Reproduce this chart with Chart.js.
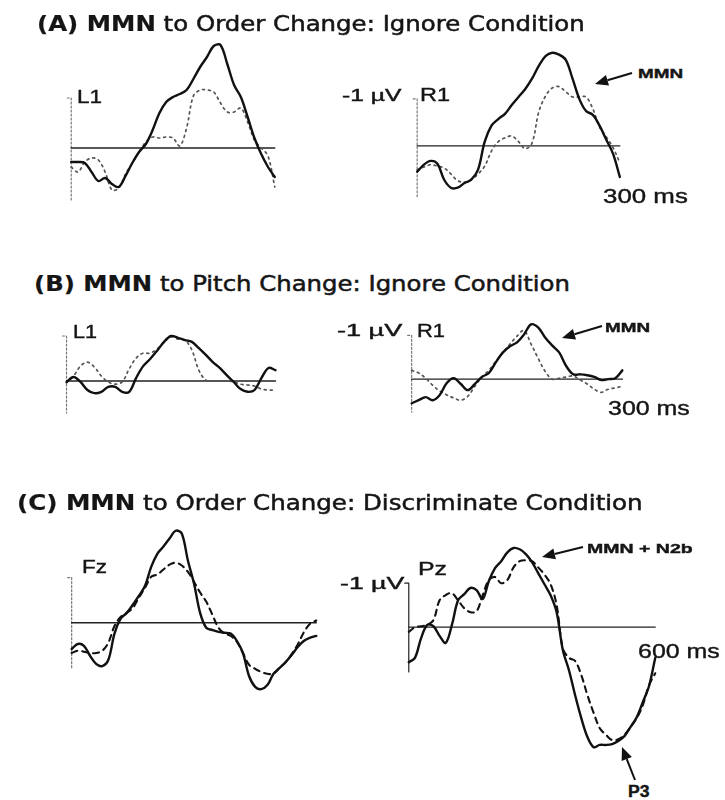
<!DOCTYPE html>
<html>
<head>
<meta charset="utf-8">
<script src="https://cdn.jsdelivr.net/npm/chart.js@4.4.1/dist/chart.umd.min.js"></script>
<style>
  html, body { margin: 0; padding: 0; background: #fff; }
  #fig { position: relative; width: 725px; height: 800px; overflow: hidden; }
  #fig canvas { position: absolute; }
  .lbl { position: absolute; white-space: nowrap; line-height: 1; color: #151515; transform-origin: 0 0; }
  .title { font-family: "DejaVu Sans", sans-serif; -webkit-text-stroke: 0.5px #151515; }
  .title b { -webkit-text-stroke: 0.2px #151515; }
  .tag { font-family: "Liberation Sans", Arial, sans-serif; -webkit-text-stroke: 0.4px #151515; }
  #arrows { position: absolute; left: 0; top: 0; }
</style>
</head>
<body>
<div id="fig"><svg id="arrows" width="725" height="800"></svg></div>
<script>
// time points (ms)
const timesShort = [0, 10, 20, 30, 40, 50, 60, 70, 80, 90, 100, 110, 120, 130, 140, 150,
  160, 170, 180, 190, 200, 210, 220, 230, 240, 250, 260, 270, 280, 290, 300];
const timesLong = [0, 15, 30, 45, 60, 75, 90, 105, 120, 135, 150, 165, 180, 195, 210, 225,
  240, 255, 270, 285, 300, 315, 330, 345, 360, 375, 390, 405, 420, 435, 450, 465, 480, 495,
  510, 525, 540, 555, 570, 585, 600];

// amplitudes in µV, negative is drawn up
// (A) order change, ignore
const aL1Deviant = [0.28, 0.28, 0.30, 0.48, 0.66, 0.60, 0.72, 0.78, 0.56, 0.30, 0.08, -0.08, -0.36,
  -0.70, -0.92, -1.02, -1.08, -1.16, -1.38, -1.62, -1.82, -2.04, -2.06, -1.68, -1.26, -1.02, -0.62,
  -0.20, 0.12, 0.38, 0.58];
const aL1Standard = [0.38, 0.48, 0.28, 0.20, 0.24, 0.48, 0.84, 0.80, 0.52, 0.30, 0.08, -0.12, -0.22,
  -0.20, -0.22, -0.20, -0.04, -0.40, -1.04, -1.16, -1.16, -1.12, -0.90, -0.72, -0.72, -0.80, -0.52,
  -0.16, 0.00, 0.16, 0.78];
const aR1Deviant = [0.55, 0.40, 0.32, 0.38, 0.72, 0.89, 0.89, 0.79, 0.72, 0.51, -0.09, -0.43, -0.57,
  -0.68, -0.87, -1.04, -1.21, -1.43, -1.70, -1.91, -1.98, -1.94, -1.83, -1.43, -1.00, -0.74, -0.66,
  -0.43, -0.13, 0.17, 0.66];
const aR1Standard = [0.51, 0.45, 0.40, 0.43, 0.47, 0.60, 0.74, 0.77, 0.72, 0.60, 0.43, 0.11, -0.09,
  -0.17, -0.21, -0.09, 0.06, -0.06, -0.72, -1.06, -1.23, -1.26, -1.15, -1.04, -1.04, -1.04, -0.79,
  -0.40, -0.19, 0.04, 0.36];

// (B) pitch change, ignore
const bL1Deviant = [0.02, -0.09, 0.02, 0.20, 0.27, 0.24, 0.13, 0.13, 0.24, 0.24, -0.07, -0.33, -0.49,
  -0.67, -0.87, -1.00, -0.96, -0.91, -0.87, -0.73, -0.58, -0.42, -0.29, -0.13, 0.02, 0.18, 0.24,
  0.20, -0.07, -0.29, -0.24];
const bL1Standard = [0.04, -0.11, -0.33, -0.42, -0.31, -0.11, 0.02, 0.07, 0.02, -0.27, -0.51, -0.62,
  -0.62, -0.71, -0.87, -0.98, -0.93, -0.91, -0.69, -0.24, -0.02, 0.00, 0.00, 0.00, 0.02, 0.07, 0.09,
  0.11, 0.18, 0.20, 0.20];
const bR1Deviant = [0.55, 0.48, 0.41, 0.48, 0.36, 0.09, -0.02, 0.11, 0.25, 0.11, -0.05, -0.14, -0.39,
  -0.61, -0.75, -0.84, -1.02, -1.25, -1.18, -0.95, -0.77, -0.61, -0.30, -0.11, -0.11, -0.09, -0.05,
  0.02, 0.00, -0.02, -0.20];
const bR1Standard = [-0.20, -0.14, -0.02, 0.14, 0.27, 0.36, 0.43, 0.48, 0.39, 0.16, -0.05, -0.20,
  -0.41, -0.61, -0.80, -0.98, -1.11, -0.80, -0.48, -0.18, 0.00, -0.02, -0.05, -0.07, 0.02, 0.11,
  0.23, 0.30, 0.23, 0.20, 0.16];

// (C) order change, discriminate
const cFzDeviant = [0.58, 0.47, 0.51, 0.73, 0.91, 0.96, 0.82, 0.24, -0.09, -0.22, -0.40, -0.60, -0.82,
  -1.24, -1.53, -1.69, -1.87, -2.04, -1.98, -1.38, -0.87, -0.22, 0.11, 0.16, 0.20, 0.22, 0.24, 0.40,
  0.67, 1.18, 1.42, 1.47, 1.38, 1.13, 1.00, 0.87, 0.71, 0.53, 0.40, 0.33, 0.29];
const cFzStandard = [0.67, 0.62, 0.64, 0.67, 0.67, 0.62, 0.44, 0.07, -0.13, -0.22, -0.33, -0.56, -0.78,
  -1.02, -1.07, -1.18, -1.29, -1.33, -1.27, -1.13, -0.91, -0.67, -0.47, -0.18, 0.11, 0.24, 0.29, 0.42,
  0.67, 0.93, 1.02, 1.09, 1.13, 1.13, 1.00, 0.87, 0.69, 0.47, 0.20, 0.02, -0.05];
const cPzDeviant = [0.80, 0.70, 0.25, -0.05, -0.02, 0.20, 0.36, -0.05, -0.61, -0.75, -0.89, -0.84, -0.64,
  -1.05, -1.34, -1.50, -1.70, -1.80, -1.77, -1.66, -1.48, -1.23, -0.98, -0.73, -0.34, 0.52, 0.98, 1.55,
  2.07, 2.50, 2.73, 2.68, 2.68, 2.66, 2.59, 2.48, 2.27, 2.05, 1.70, 1.34, 0.70];
const cPzStandard = [0.11, 0.00, -0.02, -0.05, -0.16, -0.61, -0.73, -0.77, -0.61, -0.43, -0.34, -0.36,
  -0.73, -1.07, -1.14, -1.00, -1.07, -1.36, -1.50, -1.52, -1.50, -1.36, -1.20, -0.98, -0.50, 0.48, 0.70,
  0.77, 1.09, 1.55, 1.95, 2.30, 2.45, 2.57, 2.55, 2.45, 2.27, 2.07, 1.77, 1.32, 1.05];

// calibration bar ends (µV)
const calTop = -1;
const calBottoms = { aL1: 1.08, aR1: 1.08, bL1: 0.71, bR1: 0.75, cFz: 1.0, cPz: 1.02 };

// where each panel sits: zero point in px, px per ms, px per µV
const panels = [
  { id: "aL1", t: timesShort, dev: aL1Deviant, std: aL1Standard, x0: 71, y0: 148, pxMs: 0.68, pxUv: 50, yMin: -2.4, yMax: 1.3, dashed: false, calSolid: false },
  { id: "aR1", t: timesShort, dev: aR1Deviant, std: aR1Standard, x0: 417, y0: 146, pxMs: 0.677, pxUv: 47, yMin: -2.4, yMax: 1.3, dashed: false, calSolid: false },
  { id: "bL1", t: timesShort, dev: bL1Deviant, std: bL1Standard, x0: 67, y0: 381, pxMs: 0.697, pxUv: 45, yMin: -1.6, yMax: 1.0, dashed: false, calSolid: false },
  { id: "bR1", t: timesShort, dev: bR1Deviant, std: bR1Standard, x0: 412, y0: 379, pxMs: 0.703, pxUv: 44, yMin: -1.6, yMax: 1.0, dashed: false, calSolid: false },
  { id: "cFz", t: timesLong, dev: cFzDeviant, std: cFzStandard, x0: 72, y0: 622, pxMs: 0.408, pxUv: 45, yMin: -2.5, yMax: 1.8, dashed: true, calSolid: false },
  { id: "cPz", t: timesLong, dev: cPzDeviant, std: cPzStandard, x0: 409, y0: 627, pxMs: 0.41, pxUv: 44, yMin: -2.3, yMax: 3.0, dashed: true, calSolid: true },
];

const fig = document.getElementById("fig");
const pts = (ts, vs) => ts.map((t, i) => ({ x: t, y: vs[i] }));

function buildPanel(p) {
  const tEnd = p.t[p.t.length - 1];
  const tLo = -0.06 * tEnd, tHi = 1.06 * tEnd;
  const canvas = document.createElement("canvas");
  canvas.width = Math.round((tHi - tLo) * p.pxMs);
  canvas.height = Math.round((p.yMax - p.yMin) * p.pxUv);
  canvas.style.left = (p.x0 + tLo * p.pxMs) + "px";
  canvas.style.top = (p.y0 + p.yMin * p.pxUv) + "px";
  fig.appendChild(canvas);

  const tick = 4 / p.pxMs; // little cap at top of the bar
  new Chart(canvas, {
    type: "line",
    data: {
      datasets: [
        { data: pts(p.t, p.dev), borderColor: "#111", borderWidth: 2.4, tension: 0.35 },
        {
          data: pts(p.t, p.std),
          borderColor: p.dashed ? "#111" : "#555",
          borderWidth: p.dashed ? 2.1 : 1.7,
          borderDash: p.dashed ? [6, 5] : [2, 4],
          tension: 0.35,
        },
        { data: [{ x: 0, y: 0 }, { x: tEnd, y: 0 }], borderColor: "#222", borderWidth: 1.4, tension: 0 },
        {
          data: [{ x: -tick, y: calTop }, { x: 0, y: calTop }, { x: 0, y: calBottoms[p.id] }],
          borderColor: p.calSolid ? "#222" : "#777",
          borderWidth: 1.2,
          borderDash: p.calSolid ? [] : [2, 2],
          tension: 0,
        },
      ],
    },
    options: {
      responsive: false,
      animation: false,
      events: [],
      layout: { padding: 0 },
      elements: { point: { radius: 0 }, line: { borderCapStyle: "round", borderJoinStyle: "round" } },
      plugins: { legend: { display: false }, tooltip: { enabled: false } },
      scales: {
        x: { type: "linear", display: false, min: tLo, max: tHi },
        y: { type: "linear", display: false, reverse: true, min: p.yMin, max: p.yMax },
      },
    },
  });
}

panels.forEach(buildPanel);

// text: x, baseline, font size, target width
const labels = [
  { html: "<b>(A) MMN</b> to Order Change: Ignore Condition", cls: "title", x: 37, base: 32, size: 21, w: 548 },
  { html: "<b>(B) MMN</b> to Pitch Change: Ignore Condition", cls: "title", x: 34, base: 292, size: 21, w: 536 },
  { html: "<b>(C) MMN</b> to Order Change: Discriminate Condition", cls: "title", x: 17, base: 511, size: 21, w: 626 },
  { html: "L1", cls: "tag", x: 77, base: 103, size: 18, w: 25 },
  { html: "-1 µV", cls: "tag", x: 342, base: 102, size: 16, w: 60 },
  { html: "R1", cls: "tag", x: 420, base: 101, size: 18, w: 30 },
  { html: "<b>MMN</b>", cls: "tag", x: 638, base: 78, size: 13, w: 45 },
  { html: "300 ms", cls: "tag", x: 603, base: 203, size: 21, w: 85 },
  { html: "L1", cls: "tag", x: 73, base: 338, size: 18, w: 24 },
  { html: "-1 µV", cls: "tag", x: 337, base: 337, size: 16, w: 66 },
  { html: "R1", cls: "tag", x: 417, base: 337, size: 18, w: 28 },
  { html: "<b>MMN</b>", cls: "tag", x: 605, base: 332, size: 13, w: 45 },
  { html: "300 ms", cls: "tag", x: 608, base: 415, size: 21, w: 82 },
  { html: "Fz", cls: "tag", x: 82, base: 573, size: 18, w: 25 },
  { html: "-1 µV", cls: "tag", x: 340, base: 590, size: 16, w: 65 },
  { html: "Pz", cls: "tag", x: 418, base: 575, size: 18, w: 29 },
  { html: "<b>MMN + N2b</b>", cls: "tag", x: 587, base: 553, size: 13, w: 105 },
  { html: "600 ms", cls: "tag", x: 638, base: 658, size: 21, w: 82 },
  { html: "<b>P3</b>", cls: "tag", x: 628, base: 798, size: 16, w: 22 },
];

labels.forEach((l) => {
  const el = document.createElement("div");
  el.className = "lbl " + l.cls;
  el.innerHTML = l.html;
  el.style.fontSize = l.size + "px";
  el.style.left = l.x + "px";
  el.style.top = (l.base - 0.846 * l.size) + "px";
  fig.appendChild(el);
  el.style.transform = `scaleX(${l.w / el.offsetWidth})`;
});

// pointer arrows: from (x1,y1) to tip (x2,y2)
const arrows = [
  [632, 73, 595, 84],
  [602, 326, 562, 338],
  [583, 547, 542, 557],
  [635, 780, 622, 747],
];

const svg = document.getElementById("arrows");
arrows.forEach(([x1, y1, x2, y2]) => {
  const len = Math.hypot(x2 - x1, y2 - y1);
  const ux = (x2 - x1) / len, uy = (y2 - y1) / len;
  const head = 13, half = 5.5;
  const bx = x2 - ux * head, by = y2 - uy * head;
  const ns = "http://www.w3.org/2000/svg";
  const line = document.createElementNS(ns, "line");
  line.setAttribute("x1", x1); line.setAttribute("y1", y1);
  line.setAttribute("x2", bx); line.setAttribute("y2", by);
  line.setAttribute("stroke", "#111"); line.setAttribute("stroke-width", "2");
  svg.appendChild(line);
  const tri = document.createElementNS(ns, "polygon");
  tri.setAttribute("points", `${x2},${y2} ${bx - uy * half},${by + ux * half} ${bx + uy * half},${by - ux * half}`);
  tri.setAttribute("fill", "#111");
  svg.appendChild(tri);
});
</script>
</body>
</html>
